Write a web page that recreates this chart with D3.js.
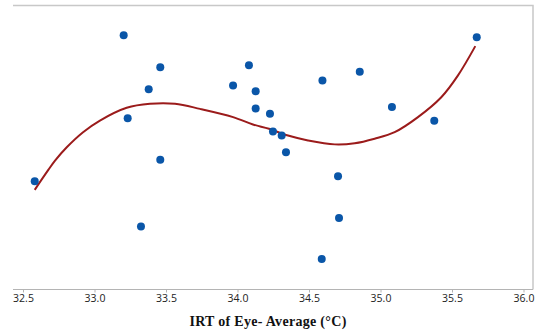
<!DOCTYPE html>
<html>
<head>
<meta charset="utf-8">
<script src="https://cdnjs.cloudflare.com/ajax/libs/d3/7.8.5/d3.min.js"></script>
<style>
  html, body { margin: 0; padding: 0; background: #fff; }
  #chart-container { width: 538px; height: 333px; }
</style>
</head>
<body>
<div id="chart-container"></div>
<script>
// scatter points (x = IRT of eye, y = response, axis hidden in source)
const pointX = [32.582, 33.204, 33.232, 33.325, 33.379, 33.460, 33.460, 33.969, 34.080, 34.127,
  34.127, 34.227, 34.248, 34.309, 34.339, 34.594, 34.589, 34.703, 34.710, 34.855,
  35.080, 35.376, 35.673];
const pointY = [3.81, 8.95, 6.03, 2.22, 7.05, 7.83, 4.57, 7.18, 7.90, 6.98,
  6.37, 6.19, 5.56, 5.42, 4.83, 7.36, 1.07, 3.99, 2.52, 7.67,
  6.43, 5.94, 8.88];

// fitted curve
const fitX = [32.582, 32.677, 32.724, 32.806, 32.920, 33.038, 33.225, 33.388, 33.563, 33.738,
  33.969, 34.108, 34.220, 34.353, 34.493, 34.680, 34.820, 34.959, 35.099, 35.262,
  35.425, 35.542, 35.663];
const fitY = [3.51, 4.21, 4.54, 5.01, 5.54, 5.95, 6.40, 6.54, 6.54, 6.36,
  6.07, 5.81, 5.66, 5.42, 5.25, 5.11, 5.15, 5.31, 5.54, 6.07,
  6.77, 7.54, 8.57];

const xTicks = [32.5, 33.0, 33.5, 34.0, 34.5, 35.0, 35.5, 36.0];
const xTitle = 'IRT of Eye- Average (°C)';

const createVisualization = () => {
  const width = 538;
  const height = 333;
  const plot = { left: 13, right: 533, top: 5.5, bottom: 289.5 };

  const svg = d3.select('#chart-container')
    .append('svg')
    .attr('width', width)
    .attr('height', height);

  const xScale = d3.scaleLinear()
    .domain([32.5, 36.0])
    .range([23, 523.5]);

  const yScale = d3.scaleLinear()
    .domain([0, 10])
    .range([plot.bottom, plot.bottom - 284]);

  // frame: top and right edges only
  svg.append('path')
    .attr('d', `M${plot.left},${plot.top}H${plot.right}V${plot.bottom}`)
    .attr('fill', 'none')
    .attr('stroke', '#c8c8c8')
    .attr('stroke-width', 1.5);

  // x axis
  const xAxis = svg.append('g')
    .attr('transform', `translate(0, ${plot.bottom})`)
    .call(d3.axisBottom(xScale)
      .tickValues(xTicks)
      .tickFormat(d3.format('.1f'))
      .tickSize(3)
      .tickSizeOuter(0));

  xAxis.select('.domain').remove();
  xAxis.append('line')
    .attr('x1', plot.left)
    .attr('x2', plot.right)
    .attr('stroke', '#b4b4b4')
    .attr('stroke-width', 1.2);
  xAxis.selectAll('.tick line').attr('stroke', '#b4b4b4');
  xAxis.selectAll('.tick text')
    .attr('y', 5)
    .attr('fill', '#222')
    .style('font-family', '"Open Sans", "DejaVu Sans", sans-serif')
    .style('font-size', '10.5px');

  svg.append('text')
    .attr('x', 268)
    .attr('y', 326)
    .attr('text-anchor', 'middle')
    .style('font-family', '"Liberation Serif", serif')
    .style('font-weight', 'bold')
    .style('font-size', '14px')
    .style('letter-spacing', '0.3px')
    .attr('fill', '#111')
    .text(xTitle);

  // fit line
  const fitData = fitX.map((x, i) => [x, fitY[i]]);
  svg.append('path')
    .datum(fitData)
    .attr('fill', 'none')
    .attr('stroke', '#9b1b1b')
    .attr('stroke-width', 2)
    .attr('d', d3.line()
      .x(d => xScale(d[0]))
      .y(d => yScale(d[1]))
      .curve(d3.curveCatmullRom.alpha(0.5)));

  // points
  const pts = pointX.map((x, i) => [x, pointY[i]]);
  svg.selectAll('.dot')
    .data(pts)
    .enter()
    .append('circle')
    .attr('class', 'dot')
    .attr('cx', d => xScale(d[0]))
    .attr('cy', d => yScale(d[1]))
    .attr('r', 4)
    .attr('fill', '#0a56a8');
};

createVisualization();
</script>
</body>
</html>
